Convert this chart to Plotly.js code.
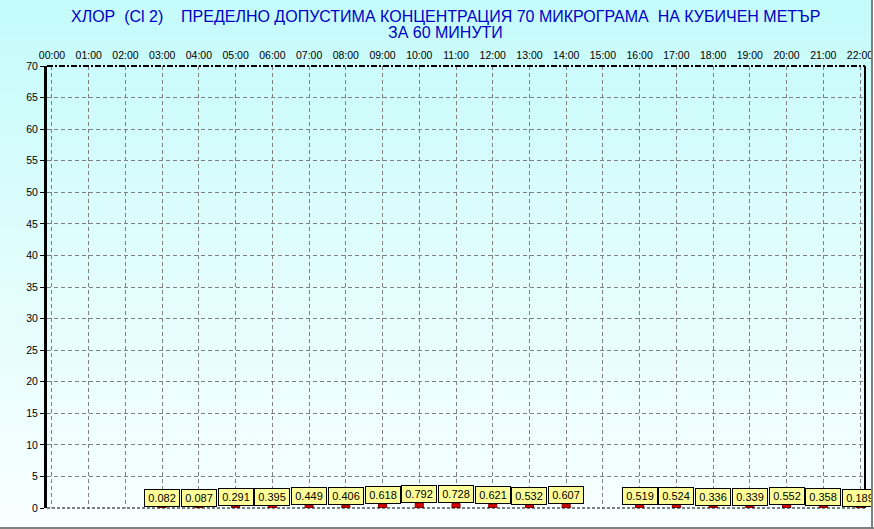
<!DOCTYPE html>
<html>
<head>
<meta charset="utf-8">
<script src="https://cdn.plot.ly/plotly-3.0.1.min.js"></script>
<style>
  html, body { margin: 0; padding: 0; background: #ffffff; }
  #wrap { position: relative; width: 874px; height: 529px; overflow: hidden;
          background: linear-gradient(to bottom, #c4fbfb 0%, #e4fdfd 55%, #f8ffff 100%); }
  #chart { position: absolute; left: 0; top: 0; width: 874px; height: 529px; }
  #edgeR { position: absolute; left: 871px; top: 0; width: 3px; height: 529px; background: #ffffff; border-left: 2px solid #808080; box-sizing: border-box; }
  #edgeB { position: absolute; left: 0; top: 527px; width: 874px; height: 2px; background: #808080; }
</style>
</head>
<body>
<div id="wrap">
  <div id="chart"></div>
  <div id="edgeR"></div>
  <div id="edgeB"></div>
</div>
<script>
// ---- data ----
const hours = ['00:00','01:00','02:00','03:00','04:00','05:00','06:00','07:00','08:00','09:00','10:00',
               '11:00','12:00','13:00','14:00','15:00','16:00','17:00','18:00','19:00','20:00','21:00','22:00'];
const chlorine = [null, null, null, 0.082, 0.087, 0.291, 0.395, 0.449, 0.406, 0.618, 0.792,
                  0.728, 0.621, 0.532, 0.607, null, 0.519, 0.524, 0.336, 0.339, 0.552, 0.358, 0.189];
const yTicks = [0, 5, 10, 15, 20, 25, 30, 35, 40, 45, 50, 55, 60, 65, 70];
const titleLine1 = 'ХЛОР\u00a0\u00a0(Cl 2)\u00a0\u00a0\u00a0\u00a0ПРЕДЕЛНО ДОПУСТИМА КОНЦЕНТРАЦИЯ 70 МИКРОГРАМА\u00a0\u00a0НА КУБИЧЕН МЕТЪР';
const titleLine2 = 'ЗА 60 МИНУТИ';

const FONT = 'Arial, "Liberation Sans", sans-serif';

const trace = {
  type: 'bar',
  x: hours,
  y: chlorine,
  width: 0.22,
  marker: { color: '#d40000', line: { color: '#900000', width: 1 } },
  hoverinfo: 'skip'
};

const annotations = [];
hours.forEach((h, i) => {
  const v = chlorine[i];
  if (v === null) return;
  annotations.push({
    x: h, y: v, xref: 'x', yref: 'y',
    text: v.toFixed(3),
    showarrow: false,
    xanchor: 'center', yanchor: 'bottom',
    font: { family: FONT, size: 11, color: '#000000' },
    bgcolor: '#ffff99',
    bordercolor: '#000000',
    borderwidth: 1,
    borderpad: 1,
    width: 32,
    height: 14
  });
});

// title lines as annotations (paper coords above the plot)
const titleFont = { family: FONT, size: 16, color: '#0000c8' };
annotations.push({
  xref: 'paper', yref: 'paper', x: 0.4866, y: 1.1131,
  xanchor: 'center', yanchor: 'middle', showarrow: false,
  text: titleLine1, font: titleFont
});
annotations.push({
  xref: 'paper', yref: 'paper', x: 0.4866, y: 1.0747,
  xanchor: 'center', yanchor: 'middle', showarrow: false,
  text: titleLine2, font: titleFont
});

const layout = {
  width: 874, height: 529,
  paper_bgcolor: 'rgba(0,0,0,0)',
  plot_bgcolor: 'rgba(0,0,0,0)',
  margin: { l: 47, r: 9, t: 66, b: 21, pad: 0 },
  showlegend: false,
  font: { family: FONT, color: '#000000' },
  xaxis: {
    type: 'category',
    range: [-0.136, 22.136],
    side: 'top',
    ticks: '',
    ticklabelstandoff: 4,
    tickfont: { family: FONT, size: 10.5, color: '#000000' },
    showgrid: true,
    gridcolor: '#808080',
    gridwidth: 1,
    griddash: '4px,3px',
    showline: false,
    zeroline: false,
    fixedrange: true
  },
  yaxis: {
    range: [0, 70],
    tickvals: yTicks,
    ticktext: yTicks.map(String),
    ticks: 'outside',
    ticklen: 4,
    tickcolor: '#000000',
    tickwidth: 1,
    tickfont: { family: FONT, size: 10.5, color: '#000000' },
    showgrid: true,
    gridcolor: '#808080',
    gridwidth: 1,
    griddash: '4px,3px',
    showline: true,
    linecolor: '#000000',
    linewidth: 3,
    zeroline: false,
    fixedrange: true
  },
  shapes: [
    { type: 'line', xref: 'paper', yref: 'paper', x0: 0, x1: 1, y0: 1, y1: 1,
      line: { color: '#000000', width: 2, dash: '6px,2px,2px,2px' } },
    { type: 'line', xref: 'paper', yref: 'paper', x0: 1, x1: 1, y0: 0, y1: 1,
      line: { color: '#000000', width: 2 } },
    { type: 'line', xref: 'paper', yref: 'paper', x0: 0, x1: 1, y0: 0, y1: 0,
      line: { color: '#000000', width: 1, dash: '3px,2px' } }
  ],
  annotations: annotations
};

Plotly.newPlot('chart', [trace], layout, { displayModeBar: false, staticPlot: true });
</script>
</body>
</html>
